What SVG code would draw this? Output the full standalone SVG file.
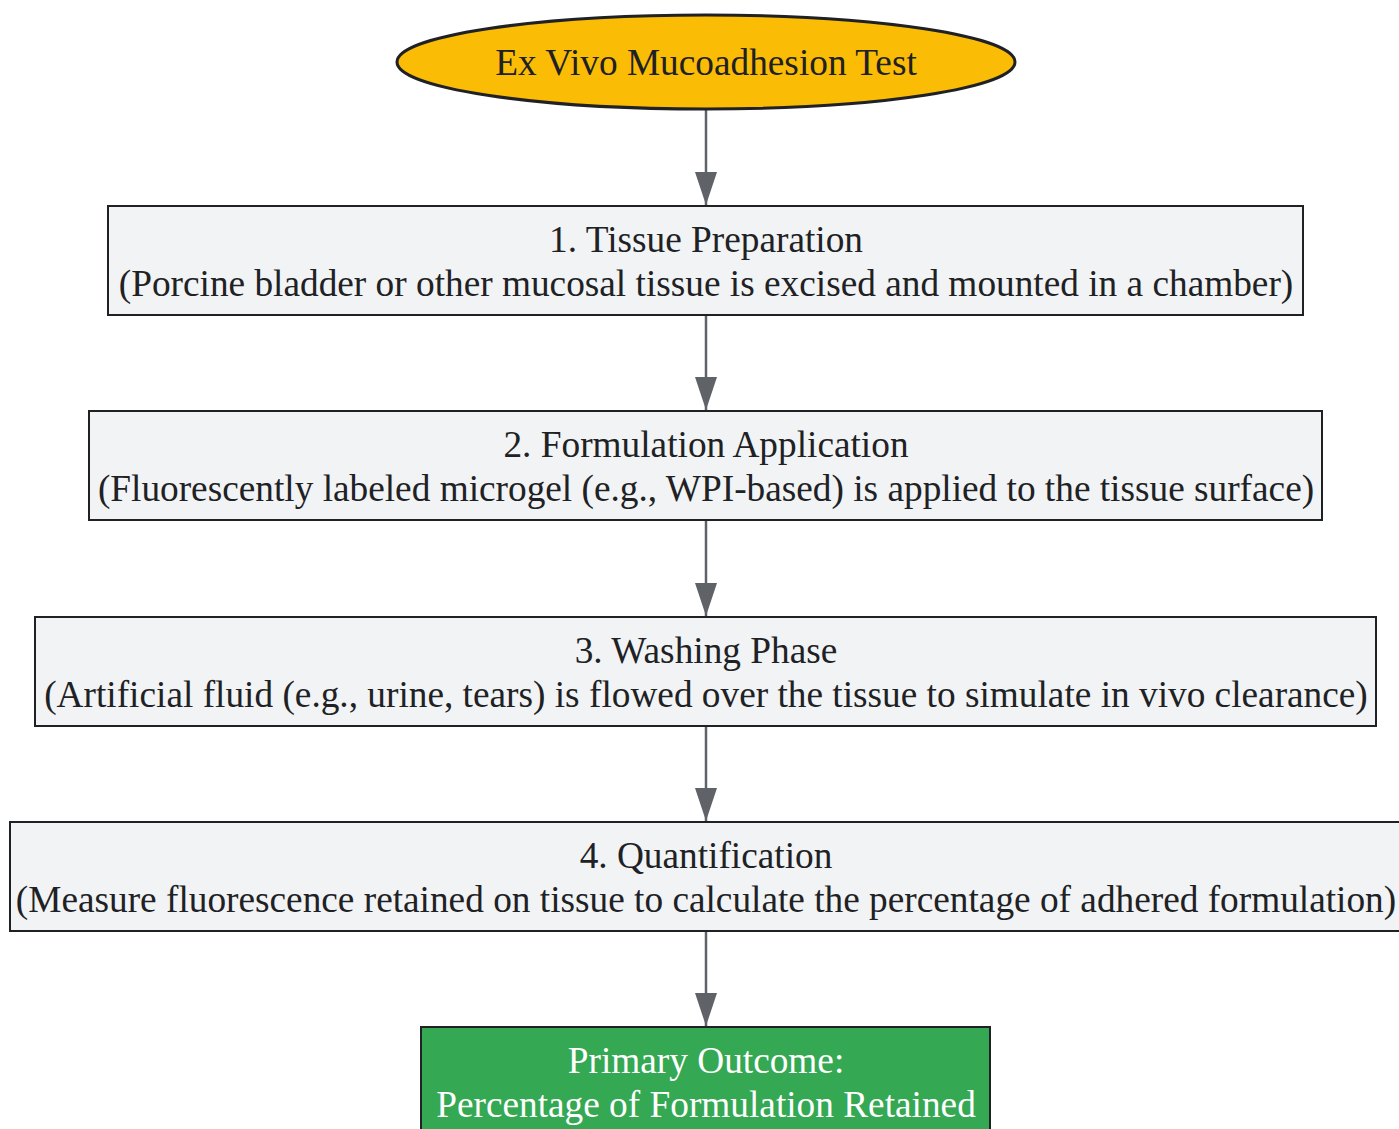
<svg xmlns="http://www.w3.org/2000/svg" width="1399" height="1129" viewBox="0 0 1399 1129">
<style>
.t{font-family:"Liberation Serif","Times New Roman",serif;font-size:37.3px;fill:#202124;text-anchor:middle}
.w{fill:#ffffff}
.box{fill:#f1f3f4;stroke:#202124;stroke-width:2}
.edge{stroke:#5f6368;stroke-width:2.5;fill:none}
</style>
<defs>
<marker id="ah" markerWidth="33" markerHeight="22" refX="33" refY="11" orient="auto" markerUnits="userSpaceOnUse" viewBox="0 0 33 22">
<path d="M0,0 L33,11 L0,22 Z" fill="#5f6368"/>
</marker>
</defs>
<rect width="1399" height="1129" fill="#ffffff"/>
<g id="edges">
<line class="edge" x1="706" y1="110" x2="706" y2="205" marker-end="url(#ah)"/>
<line class="edge" x1="706" y1="315" x2="706" y2="410" marker-end="url(#ah)"/>
<line class="edge" x1="706" y1="520" x2="706" y2="616" marker-end="url(#ah)"/>
<line class="edge" x1="706" y1="726" x2="706" y2="821" marker-end="url(#ah)"/>
<line class="edge" x1="706" y1="931" x2="706" y2="1026" marker-end="url(#ah)"/>
</g>
<g id="start">
<ellipse cx="706" cy="62" rx="309" ry="47" fill="#fbbc05" stroke="#202124" stroke-width="3"/>
<text class="t" x="706" y="75">Ex Vivo Mucoadhesion Test</text>
</g>
<g id="step1">
<rect class="box" x="108" y="206" width="1195" height="109"/>
<text class="t" x="706" y="252">1. Tissue Preparation</text>
<text class="t" x="706" y="296">(Porcine bladder or other mucosal tissue is excised and mounted in a chamber)</text>
</g>
<g id="step2">
<rect class="box" x="89" y="411" width="1233" height="109"/>
<text class="t" x="706" y="457">2. Formulation Application</text>
<text class="t" x="706" y="501">(Fluorescently labeled microgel (e.g., WPI-based) is applied to the tissue surface)</text>
</g>
<g id="step3">
<rect class="box" x="35" y="617" width="1341" height="109"/>
<text class="t" x="706" y="663">3. Washing Phase</text>
<text class="t" x="706" y="707">(Artificial fluid (e.g., urine, tears) is flowed over the tissue to simulate in vivo clearance)</text>
</g>
<g id="step4">
<rect class="box" x="10" y="822" width="1400" height="109"/>
<text class="t" x="706" y="868">4. Quantification</text>
<text class="t" x="706" y="912">(Measure fluorescence retained on tissue to calculate the percentage of adhered formulation)</text>
</g>
<g id="outcome">
<rect x="421" y="1027" width="569" height="120" fill="#34a853" stroke="#202124" stroke-width="2"/>
<text class="t w" x="706" y="1073">Primary Outcome:</text>
<text class="t w" x="706" y="1117">Percentage of Formulation Retained</text>
</g>
</svg>
